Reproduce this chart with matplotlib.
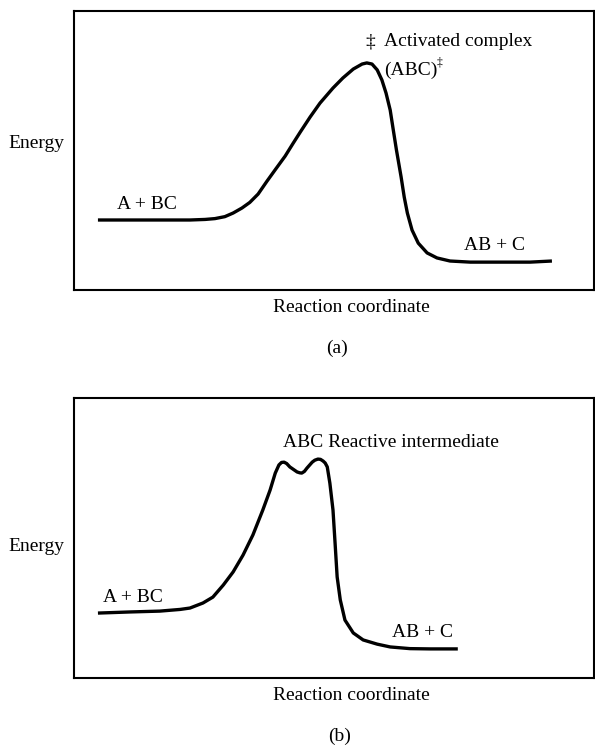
#!/usr/bin/env python3
import matplotlib
matplotlib.use('Agg')
import matplotlib.pyplot as plt

# reaction coordinate (0-100) and energy (0-100)
# (a) single barrier through the activated complex
coord_a = [4.6, 10.8, 16.5, 22.3, 25.2, 27.1, 29.0, 30.6, 32.3, 33.8, 35.4,
           37.1, 38.8, 40.6, 42.1, 43.5, 45.4, 47.3, 49.8, 51.7, 53.7, 55.4,
           56.3, 57.3, 58.3, 59.2, 60.0, 60.8, 61.4, 62.0, 62.9, 63.5, 64.1,
           65.0, 66.2, 67.9, 69.8, 72.3, 76.2, 81.9, 87.7, 91.9]
energy_a = [25.1, 25.1, 25.1, 25.1, 25.3, 25.6, 26.3, 27.6, 29.4, 31.4, 34.4,
            39.0, 43.4, 48.0, 52.5, 56.6, 62.0, 67.0, 72.4, 76.0, 79.2, 81.0,
            81.4, 81.0, 78.9, 75.3, 70.6, 64.5, 57.3, 50.2, 40.5, 33.3, 27.6,
            21.5, 16.8, 13.3, 11.5, 10.4, 10.0, 10.0, 10.0, 10.4]

# (b) double hump with a reactive intermediate in the well
coord_b = [4.6, 10.8, 16.5, 20.4, 22.3, 24.8, 26.7, 28.7, 30.6, 32.5, 34.4,
           36.3, 37.7, 38.7, 39.4, 39.9, 40.4, 40.9, 41.5, 42.9, 43.4, 43.8,
           44.3, 44.8, 45.8, 46.3, 46.9, 47.4, 47.9, 48.3, 48.7, 49.2, 49.8,
           50.2, 50.6, 51.2, 52.1, 53.7, 55.6, 58.3, 60.8, 64.6, 68.5, 73.8]
energy_b = [23.2, 23.6, 23.9, 24.5, 25.0, 26.8, 28.9, 33.2, 37.9, 43.9, 51.1,
            60.0, 67.1, 73.2, 76.1, 77.0, 77.1, 76.6, 75.4, 73.6, 73.3, 73.2,
            73.8, 75.0, 77.1, 77.8, 78.2, 78.1, 77.5, 76.8, 75.4, 69.6, 60.0,
            48.2, 36.1, 27.9, 20.7, 16.1, 13.6, 12.1, 11.1, 10.5, 10.4, 10.4]

FONT = 'Liberation Serif'
FS = 14


def draw_panel(fig, rect, x, y, energy_y, coord_y, tag, tag_x, tag_y):
    ax = fig.add_axes(rect)
    ax.plot(x, y, color='black', lw=2.4, solid_joinstyle='round',
            solid_capstyle='butt')
    ax.set_xlim(0, 100)
    ax.set_ylim(0, 100)
    ax.set_xticks([])
    ax.set_yticks([])
    for sp in ax.spines.values():
        sp.set_linewidth(1.5)
    fig.text(0.109, energy_y, 'Energy', ha='right', va='center',
             fontsize=FS, family=FONT)
    fig.text(0.590, coord_y, 'Reaction coordinate', ha='center', va='center',
             fontsize=FS, family=FONT)
    fig.text(tag_x, tag_y, tag, ha='center', va='center',
             fontsize=FS, family=FONT)
    return ax


def main():
    fig = plt.figure(figsize=(5.95, 7.45), dpi=100)

    ax = draw_panel(fig, [0.1244, 0.6107, 0.874, 0.3745], coord_a, energy_a,
                    0.808, 0.587, '(a)', 0.566, 0.533)
    ax.text(8.3, 30.8, 'A + BC', ha='left', va='center', fontsize=FS, family=FONT)
    ax.text(56.9, 88.9, '\u2021', ha='center', va='center', fontsize=FS, family=FONT)
    ax.text(59.6, 88.9, 'Activated complex', ha='left', va='center',
            fontsize=FS, family=FONT)
    ax.text(59.6, 78.9, '(ABC)', ha='left', va='center', fontsize=FS, family=FONT)
    ax.text(69.8, 81.5, '\u2021', ha='left', va='center', fontsize=FS * 0.6,
            family=FONT)
    ax.text(75.0, 15.8, 'AB + C', ha='left', va='center', fontsize=FS, family=FONT)

    ax = draw_panel(fig, [0.1244, 0.0899, 0.874, 0.3758], coord_b, energy_b,
                    0.266, 0.066, '(b)', 0.571, 0.012)
    ax.text(5.6, 28.6, 'A + BC', ha='left', va='center', fontsize=FS, family=FONT)
    ax.text(40.2, 84.3, 'ABC Reactive intermediate', ha='left', va='center',
            fontsize=FS, family=FONT)
    ax.text(61.1, 16.1, 'AB + C', ha='left', va='center', fontsize=FS, family=FONT)

    fig.savefig('out.png', dpi=100)
    print('saved out.png')


if __name__ == '__main__':
    main()
